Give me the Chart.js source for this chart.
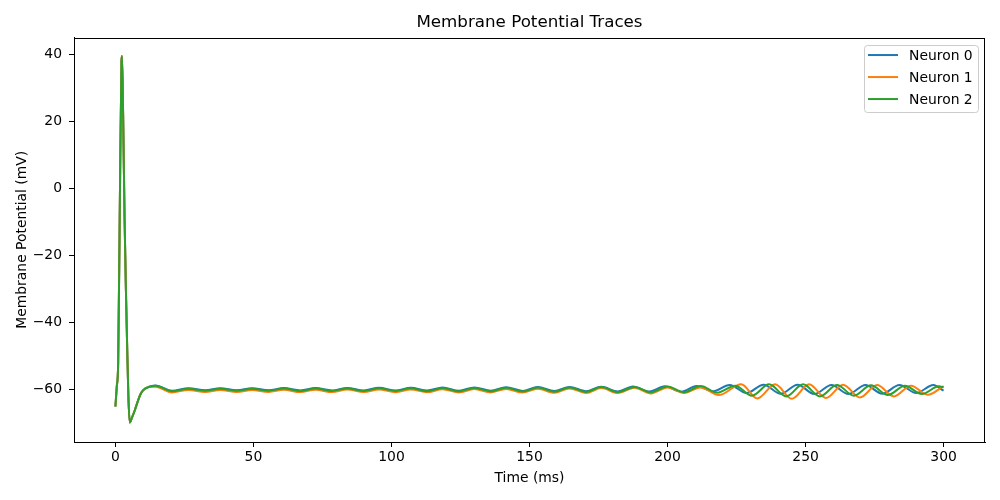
<!DOCTYPE html>
<html>
<head>
<meta charset="utf-8">
<script src="https://cdn.jsdelivr.net/npm/chart.js@4.4.1/dist/chart.umd.min.js"></script>
<style>
  html, body { margin: 0; padding: 0; background: #ffffff; }
  canvas { display: block; }
</style>
</head>
<body>
<canvas id="traceCanvas" width="1000" height="500"></canvas>
<script>
// Tick labels
const xTicks = [0, 50, 100, 150, 200, 250, 300];
const yTicks = [-60, -40, -20, 0, 20, 40];

// Series names and colours
const neuronNames = ["Neuron 0", "Neuron 1", "Neuron 2"];
const neuronColors = ["#1f77b4", "#ff7f0e", "#2ca02c"];

// The spike at the start is shared by all three neurons
const spikeTime = [0, 0.5, 1.0, 1.6, 2.2, 2.4, 2.8, 3.3, 3.8, 4.2, 4.7, 5.2, 6, 7, 8, 9, 10, 12];
const spikeVolt = [-65, -59, -52, -5, 38, 39.6, 22, -8, -30, -45, -62, -69.8, -68.3, -66.2, -63.7, -61.5, -60.2, -59.2];

// Neuron 0 after the spike (peaks and troughs)
const n0Time = [14.5, 20.5, 26.5, 32.5, 38, 44, 49.5, 55.5, 61, 67, 72.5, 78.5, 84, 90, 95.5, 101.5,
  107, 113, 118.5, 124.5, 130, 136, 141.5, 147.5, 153, 159, 164.5, 170.5, 176, 182, 187.5, 193.5,
  199, 205, 210.5, 216.5, 222.5, 228.6, 234.8, 241, 247.1, 253.2, 259.4, 265.5, 271.7, 277.8, 284,
  290.1, 296.3, 300];
const n0Volt = [-58.75, -60.3, -59.55, -60.15, -59.55, -60.15, -59.55, -60.15, -59.5, -60.2, -59.5, -60.2, -59.45, -60.2, -59.4, -60.25,
  -59.4, -60.25, -59.35, -60.3, -59.3, -60.3, -59.25, -60.35, -59.2, -60.4, -59.15, -60.45, -59.1, -60.5, -59.05, -60.55,
  -59.0, -60.6, -58.9, -60.5, -58.6, -61.0, -58.5, -61.2, -58.5, -61.3, -58.6, -61.3, -58.6, -61.2, -58.6,
  -61.0, -58.6, -60.3];

// Neuron 1
const n1Time = [14.5, 20.5, 26.5, 32.5, 38, 44, 49.5, 55.5, 61, 67, 72.5, 78.5, 84, 90, 95.5, 101.5,
  107, 113, 118.5, 124.5, 130, 136, 141.5, 147.5, 153, 159, 164.5, 170.5, 176, 182, 188, 194,
  200, 206, 212, 218.5, 226.7, 232.5, 239, 245, 251.3, 257.4, 263.6, 269.7, 275.9, 282, 288.2, 294.3, 300];
const n1Volt = [-59.1, -60.8, -60.05, -60.65, -60.05, -60.65, -60.05, -60.65, -60.0, -60.7, -60.0, -60.7, -59.95, -60.7, -59.9, -60.75,
  -59.9, -60.75, -59.85, -60.8, -59.8, -60.8, -59.75, -60.85, -59.7, -60.9, -59.6, -60.95, -59.5, -61.0, -59.4, -61.1,
  -59.3, -61.0, -59.3, -61.6, -58.4, -62.6, -58.4, -62.7, -58.4, -62.5, -58.5, -62.3, -58.6, -62.0, -58.8, -61.5, -58.9];

// Neuron 2
const n2Time = [14.5, 20.5, 26.5, 32.5, 38, 44, 49.5, 55.5, 61, 67, 72.5, 78.5, 84, 90, 95.5, 101.5,
  107, 113, 118.5, 124.5, 130, 136, 141.5, 147.5, 153, 159, 164.5, 170.5, 176, 182, 188, 194,
  200, 206, 212, 218, 224.5, 230.6, 236.8, 243, 249.1, 255.2, 261.4, 267.5, 273.7, 279.8, 286, 292.1, 298.3, 300];
const n2Volt = [-58.8, -60.45, -59.7, -60.3, -59.7, -60.3, -59.7, -60.3, -59.65, -60.35, -59.65, -60.35, -59.6, -60.4, -59.55, -60.4,
  -59.55, -60.45, -59.5, -60.5, -59.45, -60.5, -59.4, -60.55, -59.35, -60.6, -59.3, -60.65, -59.2, -60.7, -59.15, -60.8,
  -59.05, -60.8, -58.9, -60.9, -58.8, -61.8, -58.4, -62.0, -58.4, -62.0, -58.6, -61.8, -58.7, -61.6, -58.8, -61.3, -59.0, -59.3];

const neuronTimes = [n0Time, n1Time, n2Time];
const neuronVolts = [n0Volt, n1Volt, n2Volt];

function buildPoints(times, volts) {
  const pts = spikeTime.map((t, i) => ({ x: t, y: spikeVolt[i] }));
  times.forEach((t, i) => pts.push({ x: t, y: volts[i] }));
  return pts;
}

function minusLabel(v) {
  return v < 0 ? "\u2212" + Math.abs(v) : String(v);
}

Chart.defaults.font.family = "'DejaVu Sans', sans-serif";
Chart.defaults.font.size = 13.9;
Chart.defaults.color = "#000000";

// Box round the plot and a legend inside the top right corner
const framePlugin = {
  id: "frame",
  afterDatasetsDraw(chart) {
    const { ctx, chartArea: a } = chart;
    ctx.save();
    ctx.strokeStyle = "#000000";
    ctx.lineWidth = 1;
    ctx.strokeRect(Math.round(a.left) + 0.5, Math.round(a.top) + 0.5,
      Math.round(a.right - a.left) - 1, Math.round(a.bottom - a.top));

    const boxX = a.right - 121, boxY = a.top + 7.5, boxW = 114, boxH = 67;
    ctx.beginPath();
    ctx.roundRect(boxX + 0.5, boxY + 0.5, boxW, boxH, 3);
    ctx.fillStyle = "rgba(255,255,255,0.8)";
    ctx.fill();
    ctx.strokeStyle = "#cccccc";
    ctx.stroke();

    ctx.font = "13.9px 'DejaVu Sans', sans-serif";
    ctx.textBaseline = "middle";
    ctx.textAlign = "left";
    chart.data.datasets.forEach((ds, i) => {
      const y = boxY + 10 + i * 22;
      ctx.beginPath();
      ctx.moveTo(boxX + 4, y);
      ctx.lineTo(boxX + 34, y);
      ctx.strokeStyle = ds.borderColor;
      ctx.lineWidth = 2;
      ctx.stroke();
      ctx.fillStyle = "#000000";
      ctx.fillText(ds.label, boxX + 45, y + 1);
    });
    ctx.restore();
  }
};

const datasets = neuronNames.map((name, i) => ({
  label: name,
  data: buildPoints(neuronTimes[i], neuronVolts[i]),
  borderColor: neuronColors[i],
  backgroundColor: neuronColors[i],
  borderWidth: 2,
  pointRadius: 0,
  fill: false,
  cubicInterpolationMode: "monotone",
  order: 2 - i,
}));

const traceChart = new Chart(document.getElementById("traceCanvas"), {
  type: "line",
  data: { datasets: datasets },
  options: {
    responsive: false,
    animation: false,
    devicePixelRatio: 1,
    layout: { padding: { left: 0, right: 15, top: 0, bottom: 0 } },
    scales: {
      x: {
        type: "linear",
        min: -15,
        max: 315,
        afterBuildTicks: (scale) => { scale.ticks = xTicks.map((v) => ({ value: v })); },
        afterFit: (scale) => { scale.height = 58; },
        grid: { drawOnChartArea: false, drawTicks: true, tickLength: 5, tickColor: "#000000" },
        border: { display: true, color: "#000000" },
        ticks: { padding: 2, maxRotation: 0, color: "#000000" },
        title: { display: true, text: "Time (ms)", padding: { top: 0, bottom: 13 }, color: "#000000" },
      },
      y: {
        type: "linear",
        min: -75.6,
        max: 45.1,
        afterBuildTicks: (scale) => { scale.ticks = yTicks.map((v) => ({ value: v })); },
        afterFit: (scale) => { scale.width = 74; },
        grid: { drawOnChartArea: false, drawTicks: true, tickLength: 5, tickColor: "#000000" },
        border: { display: true, color: "#000000" },
        ticks: { padding: 7, callback: minusLabel, color: "#000000" },
        title: { display: true, text: "Membrane Potential (mV)", padding: { top: 14, bottom: 0 }, color: "#000000" },
      },
    },
    plugins: {
      legend: { display: false },
      tooltip: { enabled: false },
      title: {
        display: true,
        text: "Membrane Potential Traces",
        fullSize: false,
        font: { size: 16.7, weight: "normal" },
        color: "#000000",
        padding: { top: 13, bottom: 4.5 },
      },
    },
  },
  plugins: [framePlugin],
});
</script>
</body>
</html>
